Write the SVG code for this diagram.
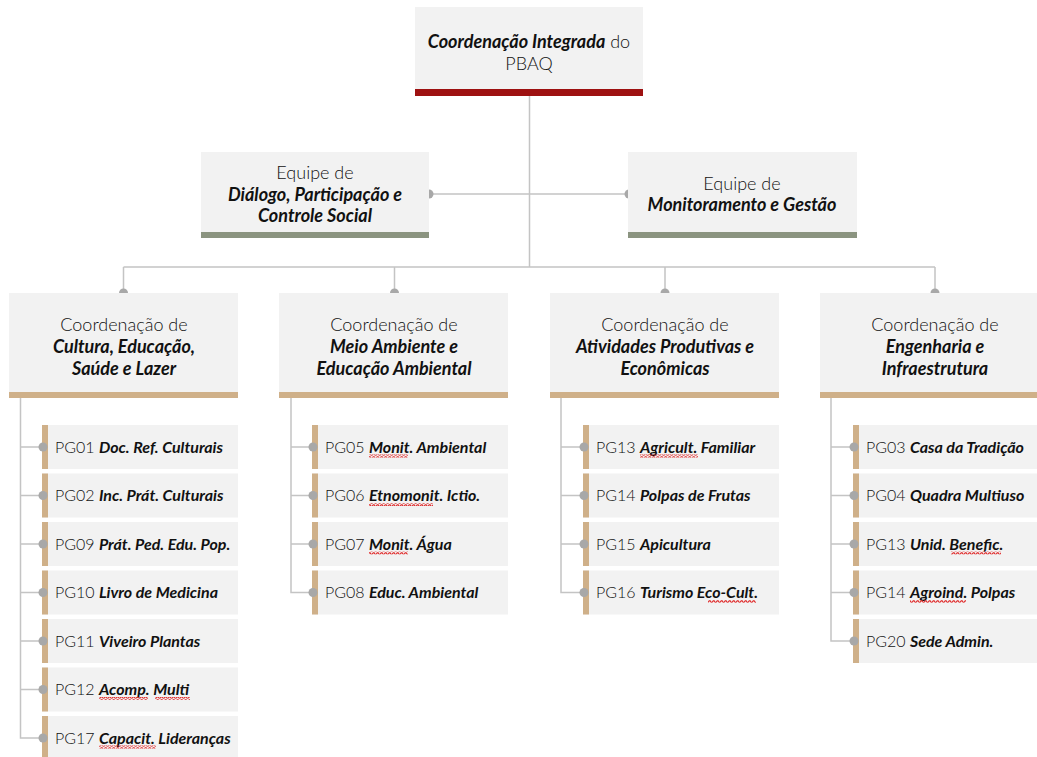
<svg xmlns="http://www.w3.org/2000/svg" width="1037" height="757" viewBox="0 0 1037 757">
<style>
.box{fill:#f2f2f2}
.red{fill:#9e1111}
.grn{fill:#8b9480}
.tan{fill:#cfb089}
.ln{stroke:#c4c4c4;stroke-width:1.5;fill:none}
.dot{fill:#a8a8a8}
.sq{fill:url(#wave)}
text{font-family:Lato,"Noto Sans","Liberation Sans",sans-serif;fill:#222}
.t{font-size:18px;text-anchor:middle}
.it{font-size:16px}
.l{font-weight:300;fill:#111}
.b{font-weight:700;font-style:italic;fill:#111}
</style>
<defs>
<pattern id="wave" patternUnits="userSpaceOnUse" x="0" y="0" width="4" height="3"><path d="M0 2.3L1 1L2 0.7L3 2L4 2.3" fill="none" stroke="#e02828" stroke-width="1.1"/></pattern>
<g id="item"><rect class="box" x="0" y="0" width="196" height="44"/><rect class="tan" x="0" y="0" width="6" height="44"/><circle class="dot" cx="1" cy="22" r="4.5"/></g>
</defs>
<rect width="1037" height="757" fill="#fff"/>
<g id="connectors">
<path class="ln" d="M529.5 96V267M429 194H629M123.5 267H935M123.5 267V293M394.5 267V293M665 267V293M935 267V293"/>
<path class="ln" d="M20.5 398V738H43M20.5 447H43M20.5 495.5H43M20.5 544H43M20.5 592.5H43M20.5 641H43M20.5 689.5H43"/>
<path class="ln" d="M291 398V592.5H313M291 447H313M291 495.5H313M291 544H313"/>
<path class="ln" d="M561 398V592.5H584M561 447H584M561 495.5H584M561 544H584"/>
<path class="ln" d="M831 398V641H854M831 447H854M831 495.5H854M831 544H854M831 592.5H854"/>
<g class="dot"><circle cx="429" cy="194" r="4.5"/><circle cx="629" cy="194" r="4.5"/><circle cx="123.5" cy="293" r="4.5"/><circle cx="394.5" cy="293" r="4.5"/><circle cx="665" cy="293" r="4.5"/><circle cx="935" cy="293" r="4.5"/></g>
</g>
<g id="top"><rect class="box" x="415" y="7" width="228" height="89"/><rect class="red" x="415" y="89" width="228" height="7"/>
<text class="t" x="529" y="48"><tspan class="b">Coordenação Integrada</tspan><tspan class="l"> do</tspan></text>
<text class="t l" x="529" y="70">PBAQ</text></g>
<g id="equipe-dialogo"><rect class="box" x="201" y="152" width="228" height="86"/><rect class="grn" x="201" y="232" width="228" height="6"/>
<text class="t l" x="315" y="179">Equipe de</text>
<text class="t b" x="315" y="201">Diálogo, Participação e</text>
<text class="t b" x="315" y="222">Controle Social</text></g>
<g id="equipe-monit"><rect class="box" x="628" y="152" width="229" height="86"/><rect class="grn" x="628" y="232" width="229" height="6"/>
<text class="t l" x="742" y="190">Equipe de</text>
<text class="t b" x="742" y="211">Monitoramento e Gestão</text></g>
<g id="coord-cultura"><rect class="box" x="9" y="293" width="229" height="105"/><rect class="tan" x="9" y="392" width="229" height="6"/>
<text class="t l" x="124" y="331">Coordenação de</text>
<text class="t b" x="124" y="353">Cultura, Educação,</text>
<text class="t b" x="124" y="375">Saúde e Lazer</text></g>
<g id="coord-meio"><rect class="box" x="279" y="293" width="229" height="105"/><rect class="tan" x="279" y="392" width="229" height="6"/>
<text class="t l" x="394" y="331">Coordenação de</text>
<text class="t b" x="394" y="353">Meio Ambiente e</text>
<text class="t b" x="394" y="375">Educação Ambiental</text></g>
<g id="coord-ativ"><rect class="box" x="550" y="293" width="229" height="105"/><rect class="tan" x="550" y="392" width="229" height="6"/>
<text class="t l" x="665" y="331">Coordenação de</text>
<text class="t b" x="665" y="353">Atividades Produtivas e</text>
<text class="t b" x="665" y="375">Econômicas</text></g>
<g id="coord-eng"><rect class="box" x="820" y="293" width="229" height="105"/><rect class="tan" x="820" y="392" width="229" height="6"/>
<text class="t l" x="935" y="331">Coordenação de</text>
<text class="t b" x="935" y="353">Engenharia e</text>
<text class="t b" x="935" y="375">Infraestrutura</text></g>
<g id="pg01"><use href="#item" x="42" y="425"/><text class="it" x="55" y="452.5"><tspan class="l">PG01 </tspan><tspan class="b">Doc. Ref. Culturais</tspan></text></g>
<g id="pg02"><use href="#item" x="42" y="473.5"/><text class="it" x="55" y="501"><tspan class="l">PG02 </tspan><tspan class="b" font-style="normal">Inc. Prát. Culturais</tspan></text></g>
<g id="pg09"><use href="#item" x="42" y="522"/><text class="it" x="55" y="549.5"><tspan class="l">PG09 </tspan><tspan class="b">Prát. Ped. Edu. Pop.</tspan></text></g>
<g id="pg10"><use href="#item" x="42" y="570.5"/><text class="it" x="55" y="598"><tspan class="l">PG10 </tspan><tspan class="b">Livro de Medicina</tspan></text></g>
<g id="pg11"><use href="#item" x="42" y="619"/><text class="it" x="55" y="646.5"><tspan class="l">PG11 </tspan><tspan class="b">Viveiro Plantas</tspan></text></g>
<g id="pg12"><use href="#item" x="42" y="667.5"/><text class="it" x="55" y="695"><tspan class="l">PG12 </tspan><tspan class="b">Acomp. Multi</tspan></text><rect class="sq" x="99" y="697" width="49" height="3"/><rect class="sq" x="155" y="697" width="35" height="3"/></g>
<g id="pg17"><use href="#item" x="42" y="716"/><text class="it" x="55" y="743.5"><tspan class="l">PG17 </tspan><tspan class="b">Capacit. Lideranças</tspan></text><rect class="sq" x="99" y="745.5" width="57" height="3"/></g>
<g id="pg05"><use href="#item" x="312" y="425"/><text class="it" x="325" y="452.5"><tspan class="l">PG05 </tspan><tspan class="b">Monit. Ambiental</tspan></text><rect class="sq" x="369" y="454.5" width="39" height="3"/></g>
<g id="pg06"><use href="#item" x="312" y="473.5"/><text class="it" x="325" y="501"><tspan class="l">PG06 </tspan><tspan class="b">Etnomonit. Ictio.</tspan></text><rect class="sq" x="369" y="503" width="64" height="3"/></g>
<g id="pg07"><use href="#item" x="312" y="522"/><text class="it" x="325" y="549.5"><tspan class="l">PG07 </tspan><tspan class="b">Monit. Água</tspan></text><rect class="sq" x="369" y="551.5" width="39" height="3"/></g>
<g id="pg08"><use href="#item" x="312" y="570.5"/><text class="it" x="325" y="598"><tspan class="l">PG08 </tspan><tspan class="b">Educ. Ambiental</tspan></text></g>
<g id="pg13a"><use href="#item" x="583" y="425"/><text class="it" x="596" y="452.5"><tspan class="l">PG13 </tspan><tspan class="b">Agricult. Familiar</tspan></text><rect class="sq" x="640" y="454.5" width="58" height="3"/></g>
<g id="pg14a"><use href="#item" x="583" y="473.5"/><text class="it" x="596" y="501"><tspan class="l">PG14 </tspan><tspan class="b">Polpas de Frutas</tspan></text></g>
<g id="pg15"><use href="#item" x="583" y="522"/><text class="it" x="596" y="549.5"><tspan class="l">PG15 </tspan><tspan class="b">Apicultura</tspan></text></g>
<g id="pg16"><use href="#item" x="583" y="570.5"/><text class="it" x="596" y="598"><tspan class="l">PG16 </tspan><tspan class="b">Turismo Eco-Cult.</tspan></text><rect class="sq" x="708" y="600" width="48" height="3"/></g>
<g id="pg03"><use href="#item" x="853" y="425"/><text class="it" x="866" y="452.5"><tspan class="l">PG03 </tspan><tspan class="b">Casa da Tradição</tspan></text></g>
<g id="pg04"><use href="#item" x="853" y="473.5"/><text class="it" x="866" y="501"><tspan class="l">PG04 </tspan><tspan class="b">Quadra Multiuso</tspan></text></g>
<g id="pg13b"><use href="#item" x="853" y="522"/><text class="it" x="866" y="549.5"><tspan class="l">PG13 </tspan><tspan class="b">Unid. Benefic.</tspan></text><rect class="sq" x="951" y="551.5" width="50" height="3"/></g>
<g id="pg14b"><use href="#item" x="853" y="570.5"/><text class="it" x="866" y="598"><tspan class="l">PG14 </tspan><tspan class="b">Agroind. Polpas</tspan></text><rect class="sq" x="910" y="600" width="56" height="3"/></g>
<g id="pg20"><use href="#item" x="853" y="619"/><text class="it" x="866" y="646.5"><tspan class="l">PG20 </tspan><tspan class="b">Sede Admin.</tspan></text></g>
</svg>
